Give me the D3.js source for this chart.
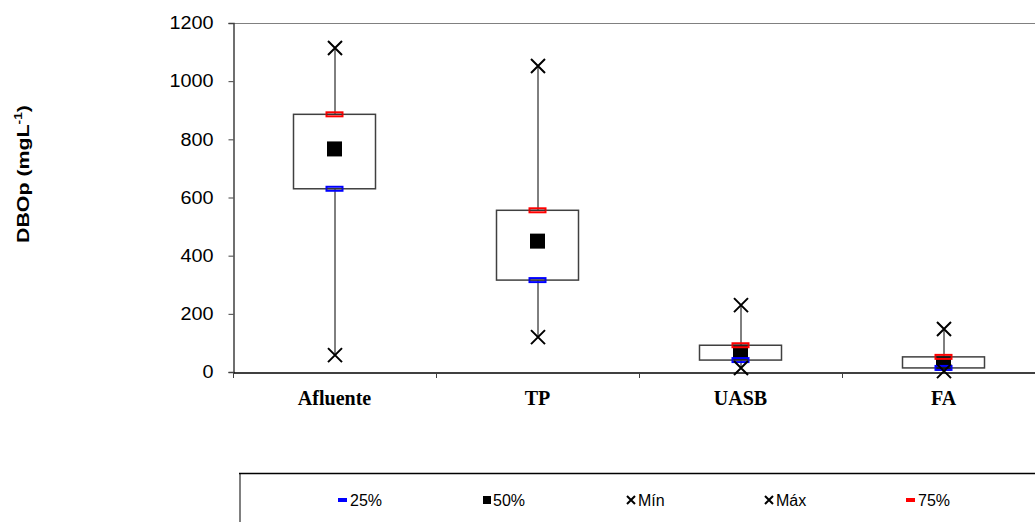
<!DOCTYPE html>
<html><head><meta charset="utf-8">
<script src="https://cdn.jsdelivr.net/npm/d3@7"></script>
<style>body{margin:0;background:#fff}svg{display:block}</style>
</head><body><svg id="c" width="1035" height="522"></svg>
<script>
const categories = ["Afluente", "TP", "UASB", "FA"];
const minVals = [58, 120, 14, 3];
const q25Vals = [630, 316, 41, 14];
const medVals = [767, 450, 68, 30];
const q75Vals = [886, 556, 92, 52];
const maxVals = [1114, 1052, 230, 148];
const yTicks = [0, 200, 400, 600, 800, 1000, 1200];
const legendItems = ["25%", "50%", "Mín", "Máx", "75%"];

(function () {
const svg = d3.select("#c");
const pLeft = 233, pTop = 23, pBottom = 372, bandW = 203;
const x = d3.scaleBand().domain(categories).range([pLeft, pLeft + bandW * categories.length]).padding(0);
const y = d3.scaleLinear().domain([0, 1200]).range([pBottom, pTop]);
const sans = "Liberation Sans, Arial, sans-serif";

svg.append("line").attr("x1", pLeft).attr("x2", 1035).attr("y1", pTop + 0.5).attr("y2", pTop + 0.5)
  .attr("stroke", "#808080").attr("stroke-width", 1);

const ya = svg.append("g").attr("transform", `translate(${pLeft + 0.5},0)`)
  .call(d3.axisLeft(y).tickValues(yTicks).tickSize(5).tickPadding(15).tickFormat(d3.format("d")));
ya.select(".domain").attr("stroke", "#404040").attr("stroke-width", 1.5);
ya.selectAll(".tick line").attr("stroke", "#404040");
ya.selectAll("text").attr("font-family", sans).attr("font-size", 18).attr("fill", "#000")
  .each(function () { const w = this.getComputedTextLength(); d3.select(this).attr("textLength", w * 1.1).attr("lengthAdjust", "spacingAndGlyphs"); });

const xa = svg.append("g").attr("transform", `translate(0,${pBottom + 0.5})`)
  .call(d3.axisBottom(x).tickSize(0));
xa.select(".domain").attr("stroke", "#000").attr("stroke-width", 1.5);
xa.selectAll("text").attr("font-family", "Liberation Serif, Times New Roman, serif")
  .attr("font-size", 20).attr("font-weight", "bold").attr("fill", "#000").attr("dy", null).attr("y", 32);
const bounds = d3.range(categories.length + 1).map(i => pLeft + i * bandW);
svg.selectAll(".bt").data(bounds).join("line").attr("x1", d => d + 0.5).attr("x2", d => d + 0.5)
  .attr("y1", pBottom).attr("y2", pBottom + 6).attr("stroke", "#404040");

const yt = svg.append("text").attr("transform", "translate(29,174) rotate(-90)").attr("text-anchor", "middle")
  .attr("font-family", sans).attr("font-size", 17).attr("font-weight", "bold")
  .attr("textLength", 138).attr("lengthAdjust", "spacingAndGlyphs")
  .html('DBOp (mgL<tspan dy="-7" font-size="11">-1</tspan><tspan dy="7">)</tspan>');

const data = categories.map((c, i) => ({c, mn: minVals[i], q1: q25Vals[i], md: medVals[i], q3: q75Vals[i], mx: maxVals[i]}));
const cx = d => x(d.c) + x.bandwidth() / 2;
const g = svg.append("g");
const boxW = 82;

g.selectAll(".wh").data(data).join("line").attr("class", "wh").attr("x1", d => cx(d) + 0.5).attr("x2", d => cx(d) + 0.5)
  .attr("y1", d => y(d.mn)).attr("y2", d => y(d.mx)).attr("stroke", "#000").attr("stroke-width", 1);
g.selectAll(".bx").data(data).join("rect").attr("class", "bx").attr("x", d => cx(d) - boxW / 2).attr("width", boxW)
  .attr("y", d => y(d.q3)).attr("height", d => y(d.q1) - y(d.q3))
  .attr("fill", "#fff").attr("stroke", "#404040").attr("stroke-width", 1.5);
g.selectAll(".md").data(data).join("rect").attr("class", "md").attr("x", d => cx(d) - 7.5).attr("y", d => y(d.md) - 7.5)
  .attr("width", 15).attr("height", 15).attr("fill", "#000");
function qmark(key, col) {
  g.selectAll(".qm" + key).data(data).join("rect").attr("class", "qm" + key).attr("x", d => cx(d) - 8).attr("y", d => y(d[key]) - 2)
    .attr("width", 16).attr("height", 4).attr("fill", "none").attr("stroke", col).attr("stroke-width", 2);
  g.selectAll(".ql" + key).data(data).join("line").attr("class", "ql" + key).attr("x1", d => cx(d) - 8).attr("x2", d => cx(d) + 8)
    .attr("y1", d => y(d[key])).attr("y2", d => y(d[key])).attr("stroke", "#333").attr("stroke-width", 1);
}
qmark("q1", "#0000ff");
qmark("q3", "#ff0000");
function xmark(key) {
  g.selectAll(".x" + key).data(data).join("path").attr("class", "x" + key)
    .attr("d", d => { const X = cx(d) + 0.5, Y = y(d[key]), s = 7; return `M${X - s},${Y - s}L${X + s},${Y + s}M${X - s},${Y + s}L${X + s},${Y - s}`; })
    .attr("stroke", "#000").attr("stroke-width", 2).attr("fill", "none");
}
xmark("mn"); xmark("mx");

svg.append("line").attr("x1", 240).attr("x2", 240).attr("y1", 473).attr("y2", 522).attr("stroke", "#808080").attr("stroke-width", 2);
svg.append("line").attr("x1", 239).attr("x2", 1035).attr("y1", 473.5).attr("y2", 473.5).attr("stroke", "#000").attr("stroke-width", 1.5);
const lx = [338, 483, 627, 765, 906];
const ly = 500;
const lg = svg.append("g");
legendItems.forEach((t, i) => {
  const gx = lx[i];
  let tx;
  if (i === 0 || i === 4) {
    lg.append("rect").attr("x", gx).attr("y", ly - 2).attr("width", 9).attr("height", 4).attr("fill", i === 0 ? "#0000ff" : "#ff0000");
    tx = gx + 12;
  } else if (i === 1) {
    lg.append("rect").attr("x", gx).attr("y", ly - 4).attr("width", 8).attr("height", 8).attr("fill", "#000");
    tx = gx + 10;
  } else {
    lg.append("path").attr("d", `M${gx},${ly - 4}L${gx + 8},${ly + 4}M${gx},${ly + 4}L${gx + 8},${ly - 4}`)
      .attr("stroke", "#000").attr("stroke-width", 2);
    tx = gx + 11;
  }
  lg.append("text").attr("x", tx).attr("y", ly + 6)
    .attr("font-family", sans).attr("font-size", 16).text(t);
});
})();
</script></body></html>
